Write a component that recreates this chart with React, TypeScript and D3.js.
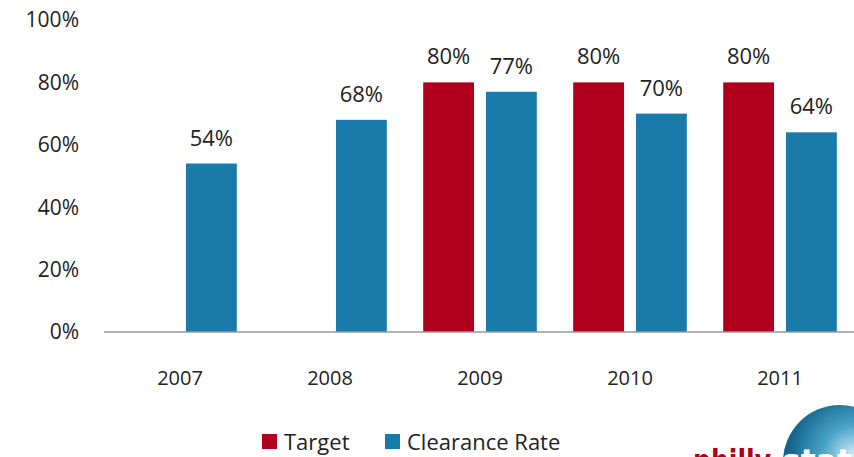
import { useEffect, useRef } from 'react';
import * as d3 from 'd3';

const years = ['2007', '2008', '2009', '2010', '2011'];
const targetValues: (number | null)[] = [null, null, 80, 80, 80];
const clearanceValues = [54, 68, 77, 70, 64];
const yTicks = [0, 20, 40, 60, 80, 100];
const seriesNames = ['Target', 'Clearance Rate'];
const seriesColors = ['#B0001E', '#1A7AAA'];

const WIDTH = 854;
const HEIGHT = 457;
const FONT = '"Open Sans", Lato, sans-serif';

export default function App() {
    const svgRef = useRef<SVGSVGElement>(null);

    useEffect(() => {
        if (!svgRef.current) return;
        const svg = d3.select(svgRef.current);
        svg.selectAll('*').remove();

        const x0 = d3.scaleBand<string>().domain(years).range([105, 855]).paddingInner(0).paddingOuter(0);
        const x1 = d3.scaleBand<string>().domain(seriesNames).range([0, x0.bandwidth()]).paddingInner(0.19).paddingOuter(0.29);
        const y = d3.scaleLinear().domain([0, 100]).range([332, 20]);

        // y tick labels
        svg.append('g')
            .selectAll('text')
            .data(yTicks)
            .join('text')
            .attr('x', 79)
            .attr('y', d => y(d))
            .attr('dy', '0.35em')
            .attr('text-anchor', 'end')
            .attr('font-family', FONT)
            .attr('font-size', 21)
            .attr('fill', '#222')
            .text(d => `${d}%`);

        // bars
        const series = [targetValues, clearanceValues];
        series.forEach((vals, si) => {
            const g = svg.append('g');
            const data = years.map((yr, i) => ({ yr, v: vals[i] })).filter(d => d.v != null) as { yr: string; v: number }[];
            g.selectAll('rect')
                .data(data)
                .join('rect')
                .attr('x', d => x0(d.yr)! + x1(seriesNames[si])!)
                .attr('y', d => y(d.v))
                .attr('width', x1.bandwidth())
                .attr('height', d => y(0) - y(d.v))
                .attr('fill', seriesColors[si]);
            g.selectAll('text')
                .data(data)
                .join('text')
                .attr('x', d => x0(d.yr)! + x1(seriesNames[si])! + x1.bandwidth() / 2)
                .attr('y', d => y(d.v) - 18)
                .attr('text-anchor', 'middle')
                .attr('font-family', FONT)
                .attr('font-size', 22)
                .attr('fill', '#222')
                .text(d => `${d.v}%`);
        });

        // baseline
        svg.append('line')
            .attr('x1', 104).attr('x2', 854)
            .attr('y1', y(0)).attr('y2', y(0))
            .attr('stroke', '#999').attr('stroke-width', 1.5);

        // x labels
        svg.append('g')
            .selectAll('text')
            .data(years)
            .join('text')
            .attr('x', d => x0(d)! + x0.bandwidth() / 2)
            .attr('y', 378)
            .attr('dy', '0.35em')
            .attr('text-anchor', 'middle')
            .attr('font-family', FONT)
            .attr('font-size', 20)
            .attr('fill', '#222')
            .text(d => d);

        // legend
        const legendX = [262, 385];
        seriesNames.forEach((name, i) => {
            const lg = svg.append('g').attr('transform', `translate(${legendX[i]},434)`);
            lg.append('rect').attr('width', 15).attr('height', 15).attr('fill', seriesColors[i]);
            lg.append('text')
                .attr('x', 22).attr('y', 8)
                .attr('dy', '0.35em')
                .attr('font-family', FONT)
                .attr('font-size', 22)
                .attr('fill', '#222')
                .text(name);
        });

        // logo (partially cropped)
        const defs = svg.append('defs');
        const grad = defs.append('radialGradient').attr('id', 'globe').attr('cx', '62%').attr('cy', '45%').attr('r', '60%');
        grad.append('stop').attr('offset', '0%').attr('stop-color', '#d6eef8');
        grad.append('stop').attr('offset', '45%').attr('stop-color', '#4aa3c8');
        grad.append('stop').attr('offset', '100%').attr('stop-color', '#0d5f88');
        svg.append('circle').attr('cx', 840).attr('cy', 462).attr('r', 57).attr('fill', 'url(#globe)');
        svg.append('text')
            .attr('x', 693).attr('y', 472)
            .attr('font-family', '"DejaVu Sans", sans-serif')
            .attr('font-weight', 'bold')
            .attr('font-size', 32)
            .attr('textLength', 78)
            .attr('lengthAdjust', 'spacingAndGlyphs')
            .attr('fill', '#B0001E')
            .text('philly');
        svg.append('text')
            .attr('x', 782).attr('y', 472)
            .attr('font-family', '"DejaVu Sans", sans-serif')
            .attr('font-weight', 'bold')
            .attr('font-size', 32)
            .attr('textLength', 70)
            .attr('lengthAdjust', 'spacingAndGlyphs')
            .attr('fill', '#ffffff')
            .text('stat');
    }, []);

    return (
        <svg
            ref={svgRef}
            width={WIDTH}
            height={HEIGHT}
            style={{ position: 'absolute', left: 0, top: 0, background: '#fff' }}
        />
    );
}
